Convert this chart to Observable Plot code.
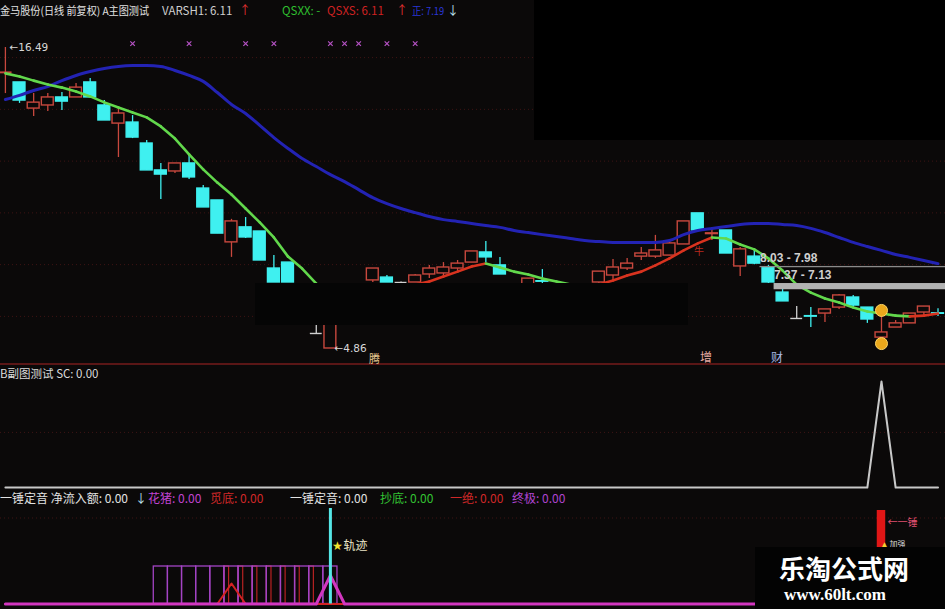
<!DOCTYPE html>
<html><head><meta charset="utf-8">
<script src="https://cdn.jsdelivr.net/npm/d3@7"></script>
<script src="https://cdn.jsdelivr.net/npm/@observablehq/plot@0.6"></script>
<style>
html,body{margin:0;padding:0;background:#0b0909;}
#wrap{position:relative;width:945px;height:609px;overflow:hidden;background:#0b0909;font-family:"Noto Sans CJK SC","DejaVu Sans",sans-serif;}
.lbl{position:absolute;font-size:12px;line-height:14px;white-space:nowrap;transform-origin:0 50%;}
.pl{position:absolute;left:0;}
</style></head><body><div id="wrap"></div>
<script>
// ---------- data ----------
const N = 67;
const idx = d3.range(N);
const openP = [15.50,15.14,14.13,14.25,14.56,14.56,15.14,14.25,13.55,13.59,
 12.78,11.74,11.70,12.01,11.04,10.58,8.96,9.54,9.38,7.95,
 8.18,7.10,5.44,4.86,6.20,6.60,7.49,7.60,7.41,7.41,
 7.72,7.76,7.95,8.18,8.57,8.07,7.33,7.18,7.46,7.30,
 6.90,7.00,7.41,7.68,7.95,8.41,8.41,8.45,8.88,10.08,
 9.28,9.42,8.03,8.41,7.99,7.02,6.02,6.11,6.21,6.44,
 6.83,6.44,5.28,5.67,5.83,6.25,6.22];
const closeP = [15.52,14.44,14.36,14.56,14.40,14.94,14.56,13.67,13.94,13.01,
 11.74,11.58,12.01,11.47,10.31,9.30,9.77,9.15,8.26,7.41,
 7.41,6.20,5.44,6.71,6.90,7.10,7.95,7.41,7.41,7.68,
 7.95,7.99,8.14,8.61,8.38,7.72,6.91,7.56,7.44,7.00,
 7.20,7.25,7.83,7.99,8.14,8.53,8.65,8.92,9.77,9.42,
 9.31,8.53,8.69,8.14,7.41,6.68,6.02,6.09,6.37,6.91,
 6.52,5.98,5.48,5.83,6.21,6.48,6.20];
const highP = [16.49,15.14,14.71,14.71,14.75,15.10,15.29,14.44,14.13,13.86,
 12.90,12.01,12.01,12.36,11.16,10.58,9.85,9.92,9.38,8.45,
 8.18,7.15,5.90,6.80,7.00,7.15,7.95,7.68,7.43,7.72,
 8.07,8.18,8.26,8.61,8.99,8.38,7.35,7.56,7.91,7.33,
 7.25,7.30,7.83,8.30,8.34,8.76,9.23,8.99,9.77,10.08,
 9.46,9.42,8.76,8.65,8.07,7.18,6.48,6.44,6.37,6.95,
 6.91,6.44,6.10,5.94,6.21,6.48,6.40];
const lowP = [14.71,14.33,13.82,14.02,14.06,14.56,14.56,13.67,12.24,12.97,
 11.74,10.62,11.62,11.39,10.31,9.30,8.38,9.11,8.26,7.41,
 7.41,6.10,5.44,4.86,6.10,6.55,7.41,7.41,7.40,7.41,
 7.56,7.60,7.80,8.18,8.18,7.72,6.88,7.10,7.20,6.95,
 6.85,6.95,7.35,7.49,7.87,8.26,8.34,8.45,8.88,9.42,
 9.03,8.53,7.64,8.10,7.37,6.68,6.02,5.67,5.86,6.37,
 6.44,5.83,5.28,5.67,5.83,6.10,6.10];
const maLong = [14.48,14.64,14.83,14.98,15.21,15.41,15.56,15.68,15.76,15.79,
 15.79,15.76,15.60,15.41,15.18,14.75,14.29,13.94,13.48,13.01,
 12.59,12.20,11.89,11.58,11.31,11.00,10.69,10.46,10.27,10.11,
 9.96,9.84,9.77,9.69,9.61,9.54,9.42,9.34,9.26,9.19,
 9.11,9.03,8.99,8.96,8.96,8.96,8.96,9.03,9.26,9.42,
 9.50,9.57,9.65,9.69,9.69,9.65,9.61,9.50,9.34,9.15,
 8.96,8.80,8.65,8.49,8.38,8.26,8.14];
const maShort = [15.49,15.37,15.21,15.06,14.94,14.79,14.60,14.37,14.17,13.98,
 13.79,13.44,12.97,12.36,11.78,11.27,10.81,10.27,9.73,9.15,
 8.41,7.95,7.37,6.80,6.60,6.65,6.85,7.05,7.20,7.33,
 7.45,7.64,7.83,8.03,8.14,7.99,7.83,7.72,7.56,7.45,
 7.33,7.26,7.33,7.49,7.68,7.83,8.07,8.34,8.65,8.92,
 9.15,9.11,8.88,8.69,8.34,7.87,7.33,7.02,6.79,6.64,
 6.44,6.29,6.21,6.13,6.10,6.13,6.21];
const markIdx = [9,13,17,19,23,24,25,27,29];
const markLevel = 16.64;
const ballIdx = [62,62];
const ballP = [6.33,5.05];
const extremes = [{i:0,v:16.49},{i:23,v:4.86}];
const bandLo = [7.98,7.13], bandHi = [8.03,7.37], bandStart = [53.4,54.4];
const gridP = [16.1,14.1,12.1,10.1,8.1,6.1];
// sub chart
const scSeries = idx.map(i => i === 62 ? 1 : 0);
// bottom chart
const boxIdx = d3.range(11,24), boxVal = 0.375;
const redBoxIdx = d3.range(16,23);
const redSig = idx.map(i => i === 16 ? 0.205 : 0);
const pinkSig = idx.map(i => i === 23 ? 0.285 : 0);
const cyanIdx = [23], cyanVal = 0.955;
const barIdx = [62], barVal = 0.935;

// ---------- styles ----------
const BG = "#0b0909", RED = "#c8483e", CYAN = "#3ff0f0", WHITE = "#d0d0d0";
const X = {type:"linear", domain:[-0.347,66.53], range:[0,945], axis:null};
const wrap = document.getElementById("wrap");
function place(el, top){ el.classList.add("pl"); el.style.top = top+"px"; wrap.appendChild(el); }

const candles = idx.map(i => ({i, o:openP[i], c:closeP[i], h:highP[i], l:lowP[i]}));
const col = d => d.c > d.o ? RED : d.c < d.o ? CYAN : WHITE;
const segs = d3.range(N-1).map(i => ({a:i, b:i+1, y1:maShort[i], y2:maShort[i+1]}));

const main = Plot.plot({
  width:945, height:366, margin:0,
  x:X, y:{domain:[4.164,18.306], range:[366,0], axis:null},
  color:{type:"identity"},
  style:{background:"transparent", overflow:"visible"},
  marks:[
    Plot.ruleY(gridP, {stroke:"#3e1414", strokeDasharray:"1,3"}),
    Plot.ruleX(candles, {x:"i", y1:"l", y2:"h", stroke:col, strokeWidth:1.3}),
    Plot.rect(candles.filter(d=>d.o!==d.c), {x1:d=>d.i-0.42, x2:d=>d.i+0.42,
      y1:d=>Math.min(d.o,d.c), y2:d=>Math.max(d.o,d.c),
      fill:d=>d.c>d.o?BG:CYAN, stroke:col, strokeWidth:1.4}),
    Plot.ruleY(candles.filter(d=>d.o===d.c), {y:"c", x1:d=>d.i-0.42, x2:d=>d.i+0.42, stroke:col, strokeWidth:1.4}),
    Plot.line(idx, {x:i=>i, y:i=>maLong[i], stroke:"#2323b4", strokeWidth:3, curve:"monotone-x"}),
    Plot.link(segs, {x1:"a", x2:"b", y1:"y1", y2:"y2", stroke:d=>d.y2>d.y1?"#d9331f":"#62d84c", strokeWidth:2.6, strokeLinecap:"round"}),
    Plot.dot(markIdx, {x:d=>d, y:()=>markLevel, symbol:"times", r:2.2, stroke:"#b552c4", strokeWidth:1.2}),
    Plot.rect([0,1], {x1:i=>bandStart[i], x2:()=>67, y1:i=>bandLo[i], y2:i=>bandHi[i], fill:i=>i?"#b2b2b2":"#8a8a8a"}),
    Plot.text([0,1], {x:i=>bandStart[i], y:i=>bandHi[i], dy:-8, text:i=>bandHi[i].toFixed(2)+" - "+bandLo[i].toFixed(2),
      textAnchor:"start", fill:"#cfcfcf", fontSize:12, fontFamily:"Liberation Sans", fontWeight:"bold"}),
    Plot.dot([0,1], {x:i=>ballIdx[i], y:i=>ballP[i], r:6, fill:"#eba81c", stroke:"#ffd666", strokeWidth:1}),
    Plot.text(extremes, {x:"i", y:"v", text:d=>"←"+d.v.toFixed(2), dx:4, textAnchor:"start", fill:"#d8d8d8", fontSize:10.5, fontFamily:"DejaVu Sans"})
  ]
});
place(main, 0);

const sub = Plot.plot({
  width:945, height:124, margin:0,
  x:X, y:{domain:[0,1], range:[121,15], axis:null},
  style:{background:"transparent", overflow:"visible"},
  marks:[
    Plot.ruleY([0.52], {stroke:"#3e1515", strokeDasharray:"1,3"}),
    Plot.line(idx, {x:i=>i, y:i=>scSeries[i], stroke:"#c8c8c8", strokeWidth:2})
  ]
});
place(sub, 366);

const bot = Plot.plot({
  width:945, height:119, margin:0,
  x:X, y:{domain:[0,1], range:[113.5,13.5], axis:null},
  style:{background:"transparent", overflow:"visible"},
  marks:[
    Plot.ruleY([0.86], {stroke:"#3e1515", strokeDasharray:"1,3"}),
    Plot.rect(redBoxIdx, {x1:i=>i-0.5, x2:i=>i-0.17, y1:0, y2:()=>boxVal, fill:"none", stroke:"#b82222", strokeWidth:1.2}),
    Plot.rect(boxIdx, {x1:i=>i-0.5, x2:i=>i+0.5, y1:0, y2:()=>boxVal, fill:"none", stroke:"#a444c4", strokeWidth:1.3}),
    Plot.line(idx, {x:i=>i, y:i=>redSig[i], stroke:"#d42222", strokeWidth:2}),
    Plot.line(idx, {x:i=>i, y:i=>pinkSig[i], stroke:"#d236c0", strokeWidth:3}),
    Plot.ruleX(cyanIdx, {x:d=>d, y1:0, y2:()=>cyanVal, stroke:"#55e6e6", strokeWidth:3}),
    Plot.rect(barIdx, {x1:i=>i-0.3, x2:i=>i+0.3, y1:0, y2:()=>barVal, fill:"#e01616"}),
    Plot.text(cyanIdx, {x:d=>d, y:()=>0.575, text:()=>"★", dx:2, textAnchor:"start", fill:"#f4e430", fontSize:12}),
    Plot.text(cyanIdx, {x:d=>d, y:()=>0.575, text:()=>"轨迹", dx:13, textAnchor:"start", fill:"#ece6c8", fontSize:12, fontFamily:"Noto Sans CJK SC"}),
    Plot.text(barIdx, {x:d=>d, y:()=>0.815, text:()=>"←一锤", dx:6, textAnchor:"start", fill:"#e05070", fontSize:10, fontFamily:"Noto Sans CJK SC"}),
    Plot.text(barIdx, {x:d=>d, y:()=>0.6, text:()=>"▲", dx:-1, textAnchor:"start", fill:"#f0d030", fontSize:8}),
    Plot.text(barIdx, {x:d=>d, y:()=>0.6, text:()=>"加强", dx:8, textAnchor:"start", fill:"#dddddd", fontSize:8, fontFamily:"Noto Sans CJK SC"})
  ]
});
place(bot, 490);

// ---------- overlays and texts ----------
function box(l,t,w,h,c){const d=document.createElement("div");d.style.cssText=`position:absolute;left:${l}px;top:${t}px;width:${w}px;height:${h}px;background:${c}`;wrap.appendChild(d);return d;}
function txt(s,l,t,c,extra){const d=document.createElement("div");d.className="lbl";d.textContent=s;d.style.left=l+"px";d.style.top=t+"px";d.style.color=c;if(extra)d.style.cssText+=extra;wrap.appendChild(d);return d;}
box(0,363,945,2,"#5a1616");
box(534,0,411,140,"#000");
box(255,283,433,42,"#050505");
txt("金马股份(日线 前复权) A主图测试",0,3,"#e2e2e2","font-size:11px;transform:scaleX(0.92)");
txt("VARSH1: 6.11",162,3,"#cfcfcf","font-size:11.5px");
txt("↑",239,3,"#e03030");
txt("QSXX: -",282,3,"#2fbf2f","font-size:11.5px");
txt("QSXS: 6.11",327,3,"#cf2222","font-size:11.5px");
txt("↑",396,3,"#e03030");
txt("正: 7.19",412,3,"#2a36d6","font-size:11px;transform:scaleX(0.85)");
txt("↓",447,3,"#bfe6f0");
txt("腾",369,351,"#e8c890","font-size:11px");
txt("增",700,350,"#e6a8a0");
txt("财",771,350,"#a8b8e6");
txt("牛",694,244,"#b8281e","font-size:10px");
txt("B副图测试 SC: 0.00",0,366,"#dcdcdc","font-size:11.5px");
txt("一锤定音 净流入额: 0.00",0,491,"#e2e2e2");
txt("↓",135,491,"#bfe6f0");
txt("花猪: 0.00",148,491,"#c044d0");
txt("觅底: 0.00",210,491,"#d02828");
txt("一锤定音: 0.00",290,491,"#e2e2e2");
txt("抄底: 0.00",380,491,"#33c433");
txt("一绝: 0.00",450,491,"#d02828");
txt("终极: 0.00",512,491,"#b044d0");
box(755,547,190,62,"#030303");
txt("乐淘公式网",779,553,"#ffffff","font-size:26px;line-height:30px;font-weight:bold;font-family:'Noto Sans CJK SC'");
txt("www.60lt.com",784,585,"#ffffff","font-size:17px;line-height:20px;font-weight:bold;font-family:'Liberation Serif','DejaVu Serif',serif");
</script></body></html>
